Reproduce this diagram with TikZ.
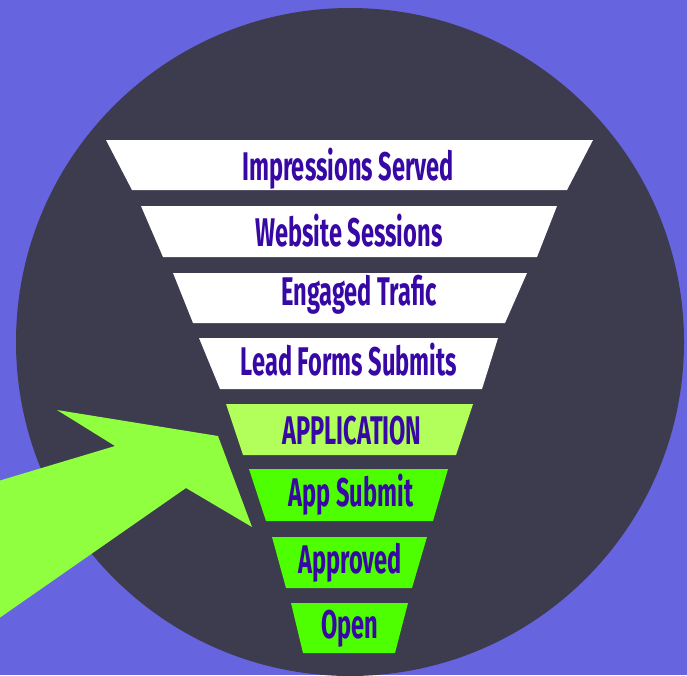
\documentclass[tikz,border=0pt]{standalone}
\usepackage{fontspec}
\usepackage{tikz}
\usetikzlibrary{positioning}
\newfontfamily\stagefont{Fira Sans}[FakeStretch=0.59]
\definecolor{backdrop}{RGB}{103,100,224}
\definecolor{disc}{RGB}{61,59,78}
\definecolor{ink}{RGB}{56,8,165}
\definecolor{lime}{RGB}{178,255,92}
\definecolor{neon}{RGB}{77,255,0}
\definecolor{pointer}{RGB}{143,255,63}

\begin{document}
\begin{tikzpicture}[
    x=1pt, y=-1pt,
    stage/.style={anchor=base, text=ink, inner sep=0pt, font=\stagefont\bfseries\fontsize{40}{40}\selectfont},
    top/.style={fill=white},
    apply/.style={fill=lime},
    result/.style={fill=neon}
]
\useasboundingbox (0,0) rectangle (687,675);
\clip (0,0) rectangle (687,675);

% Background
\fill[backdrop] (0,0) rectangle (687,675);
\fill[disc] (350,342) circle[radius=334];

% Upper funnel
\fill[top] (106,140) -- (593,140) -- (567,190) -- (132,190) -- cycle;
\node[stage] (impressions) at (348,180) {Impressions Served};
\fill[top] (141,206) -- (557,206) -- (537,257) -- (163,257) -- cycle;
\node[stage] (sessions) at (349,246) {Website Sessions};
\fill[top] (173,273) -- (527,273) -- (505,323) -- (193,323) -- cycle;
\node[stage] (engaged) at (359,305) {Engaged Trafic};
\fill[top] (199,338) -- (498,338) -- (482,389) -- (220,389) -- cycle;
\node[stage] (leads) at (349,375) {Lead Forms Submits};

% Lower funnel
\fill[apply] (226,404) -- (473,404) -- (456,455) -- (243,455) -- cycle;
\node[stage] (application) at (352,444) {APPLICATION};
\fill[result] (249,469) -- (448,469) -- (433,521) -- (266,521) -- cycle;
\node[stage] (submit) at (351,506) {App Submit};
\fill[result] (272,537) -- (427,537) -- (412,588) -- (286,588) -- cycle;
\node[stage] (approved) at (350,573) {Approved};
\fill[result] (291,603) -- (408,603) -- (395,653) -- (303,653) -- cycle;
\node[stage] (open) at (350,638) {Open};

% Pointer
\fill[pointer] (-5,482) -- (115,446) -- (57,410) -- (218,436) -- (252,527)
    -- (186,488) -- (-5,621) -- cycle;

\end{tikzpicture}
\end{document}
